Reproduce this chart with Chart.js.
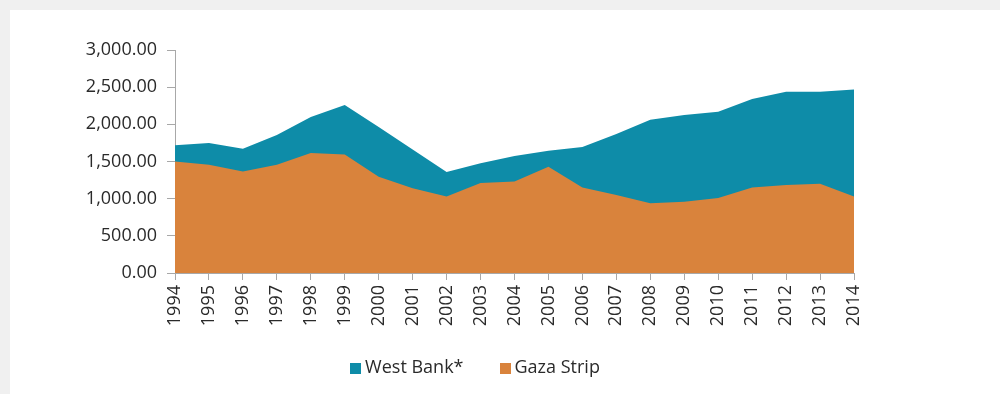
<!DOCTYPE html>
<html>
<head>
<meta charset="utf-8">
<script src="https://cdn.jsdelivr.net/npm/chart.js@4/dist/chart.umd.min.js"></script>
<style>
  html, body { margin: 0; padding: 0; background: #f0f0f0; width: 1000px; height: 394px; overflow: hidden; }
  #card { position: absolute; left: 10px; top: 10px; width: 990px; height: 384px; background: #ffffff; }
  #wrap { position: absolute; left: 0; top: 0; width: 990px; height: 384px; }
  #legend { position: absolute; top: 344px; left: -30px; width: 990px; text-align: center; font-family: "Open Sans", sans-serif; font-size: 18px; color: #2a2a2a; }
  #legend span.item { display: inline-block; margin: 0 18px; }
  #legend span.box { display: inline-block; width: 11px; height: 11px; margin-right: 4px; vertical-align: -1px; }
</style>
</head>
<body>
<div id="card">
  <div id="wrap"><canvas id="c" width="990" height="384"></canvas></div>
  <div id="legend"></div>
</div>
<script>
const years = ["1994","1995","1996","1997","1998","1999","2000","2001","2002","2003","2004","2005","2006","2007","2008","2009","2010","2011","2012","2013","2014"];
const westBank = [1720,1750,1670,1855,2100,2260,1965,1660,1360,1475,1575,1645,1695,1870,2060,2125,2170,2340,2440,2440,2470];
const gazaStrip = [1500,1455,1365,1455,1615,1595,1295,1140,1030,1210,1230,1430,1150,1050,940,960,1010,1150,1185,1200,1030];
const seriesNames = ["West Bank*", "Gaza Strip"];
const seriesColors = ["#0e8ca8", "#d9833c"];

const font = "'Open Sans', sans-serif";

new Chart(document.getElementById('c'), {
  type: 'line',
  data: {
    labels: years,
    datasets: [
      { label: seriesNames[0], data: westBank, backgroundColor: seriesColors[0], borderWidth: 0, pointRadius: 0, fill: 'origin', tension: 0, order: 2 },
      { label: seriesNames[1], data: gazaStrip, backgroundColor: seriesColors[1], borderWidth: 0, pointRadius: 0, fill: 'origin', tension: 0, order: 1 }
    ]
  },
  options: {
    responsive: false,
    animation: false,
    layout: { padding: { top: 40, right: 146, left: 0, bottom: 0 } },
    plugins: { legend: { display: false }, tooltip: { enabled: false } },
    scales: {
      x: {
        offset: false,
        grid: { display: true, drawOnChartArea: false, drawTicks: true, tickLength: 7, color: '#a8a8a8' },
        border: { display: true, color: '#a8a8a8', width: 1 },
        ticks: { minRotation: 90, maxRotation: 90, autoSkip: false, font: { family: font, size: 18 }, color: '#2a2a2a', padding: 5 },
        afterFit: (s) => { s.height = 121; }
      },
      y: {
        min: 0, max: 3000,
        grid: { display: true, drawOnChartArea: false, drawTicks: true, tickLength: 8, color: '#a8a8a8' },
        border: { display: true, color: '#a8a8a8', width: 1 },
        ticks: { stepSize: 500, font: { family: font, size: 18 }, color: '#2a2a2a', padding: 10,
          callback: (v) => Number(v).toLocaleString('en-US', { minimumFractionDigits: 2, maximumFractionDigits: 2 }) },
        afterFit: (s) => { s.width = 165; }
      }
    }
  }
});

const lg = document.getElementById('legend');
seriesNames.forEach((n, i) => {
  const it = document.createElement('span'); it.className = 'item';
  const b = document.createElement('span'); b.className = 'box'; b.style.background = seriesColors[i];
  it.appendChild(b); it.appendChild(document.createTextNode(n));
  lg.appendChild(it);
});
</script>
</body>
</html>
